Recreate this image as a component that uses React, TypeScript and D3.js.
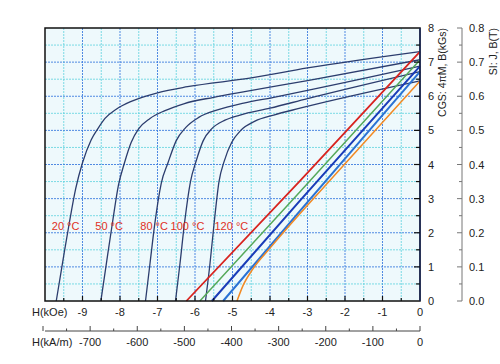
import { useEffect, useRef } from "react";
import * as d3 from "d3";

// demagnetization curves, H in kOe, J (4πM) in kGs
const j20 = [[-9.7, 0], [-9.52, 1.2], [-9.35, 2.3], [-9.18, 3.3], [-9.0, 4.05], [-8.77, 4.72], [-8.59, 5.05], [-8.4, 5.35], [-8.1, 5.62], [-7.7, 5.85], [-7.0, 6.1], [-6.2, 6.28], [-4.54, 6.53], [-3, 6.83], [0, 7.31]];
const j50 = [[-8.51, 0], [-8.35, 1.2], [-8.2, 2.3], [-8.04, 3.4], [-7.88, 4.05], [-7.7, 4.65], [-7.5, 5.05], [-7.2, 5.35], [-6.8, 5.58], [-6.3, 5.78], [-5.5, 5.97], [-4.6, 6.15], [-3, 6.46], [0, 7.07]];
const j80 = [[-7.32, 0], [-7.2, 1.1], [-7.07, 2.28], [-6.9, 3.45], [-6.72, 4.05], [-6.5, 4.7], [-6.25, 5.08], [-5.9, 5.38], [-5.4, 5.6], [-4.7, 5.8], [-3.9, 5.97], [-3, 6.17], [0, 6.88]];
const j100 = [[-6.52, 0], [-6.4, 1.1], [-6.28, 2.28], [-6.12, 3.5], [-5.97, 4.1], [-5.78, 4.7], [-5.55, 5.05], [-5.2, 5.3], [-4.8, 5.45], [-4.0, 5.65], [-3, 5.93], [0, 6.72]];
const j120 = [[-5.72, 0], [-5.6, 1.1], [-5.49, 2.28], [-5.36, 3.5], [-5.22, 4.1], [-5.02, 4.65], [-4.78, 5.0], [-4.4, 5.27], [-3.9, 5.45], [-3.2, 5.65], [0, 6.45]];

// normal B curves
const b20 = [[-6.23, 0], [-3.2, 3.52], [0, 7.31]];
const b50 = [[-5.87, 0], [-3.2, 3.2], [0, 7.07]];
const b80 = [[-5.55, 0], [-3.2, 2.94], [0, 6.88]];
const b100 = [[-5.25, 0], [-3.2, 2.64], [0, 6.72]];
const b120 = [[-4.88, 0], [-4.72, 0.45], [-4.45, 0.95], [-4.0, 1.55], [-2, 4.02], [0, 6.45]];

const tempLabels = ["20 °C", "50 °C", "80 °C", "100 °C", "120 °C"];
const labelH = [-9.45, -8.29, -7.09, -6.2, -5.03];
const labelJ = 2.2;

const koeTicks = [-9, -8, -7, -6, -5, -4, -3, -2, -1, 0];
const kamTicks = [-700, -600, -500, -400, -300, -200, -100, 0];
const kgsTicks = [0, 1, 2, 3, 4, 5, 6, 7, 8];
const teslaTicks = [0, 0.1, 0.2, 0.3, 0.4, 0.5, 0.6, 0.7, 0.8];

const bColors = ["#d8231f", "#55a95a", "#1a3cb8", "#2a72d4", "#f28a24"];
const bWidths = [1.8, 1.5, 2, 2, 1.5];

export default function App() {
  const svgRef = useRef<SVGSVGElement>(null);

  useEffect(() => {
    const svgEl = svgRef.current;
    if (!svgEl) return;
    const svg = d3.select(svgEl);
    svg.selectAll("*").remove();

    const left = 45, right = 420, top = 28, bottom = 301;
    const x = d3.scaleLinear().domain([-10, 0]).range([left, right]);
    const y = d3.scaleLinear().domain([0, 8]).range([bottom, top]);
    const xk = d3.scaleLinear().domain([-10 * 79.577, 0]).range([left, right]);
    const yt = d3.scaleLinear().domain([0, 0.8]).range([bottom, top]);
    const font = "'Liberation Sans', Arial, sans-serif";

    svg.append("rect")
      .attr("x", left).attr("y", top)
      .attr("width", right - left).attr("height", bottom - top)
      .attr("fill", "#eef9fc");

    // grid
    const g = svg.append("g");
    d3.range(-9.5, 0, 0.5).forEach((h) => {
      const major = Number.isInteger(h);
      g.append("line")
        .attr("x1", x(h)).attr("x2", x(h)).attr("y1", top).attr("y2", bottom)
        .attr("stroke", major ? "#3f7fe0" : "#5fd3df")
        .attr("stroke-width", 1)
        .attr("stroke-dasharray", "2,1")
        .attr("opacity", major ? 0.9 : 0.8);
    });
    d3.range(0.5, 8, 0.5).forEach((v) => {
      const major = Number.isInteger(v);
      g.append("line")
        .attr("x1", left).attr("x2", right).attr("y1", y(v)).attr("y2", y(v))
        .attr("stroke", major ? "#3f7fe0" : "#5fd3df")
        .attr("stroke-width", 1)
        .attr("stroke-dasharray", "2,1")
        .attr("opacity", major ? 0.9 : 0.8);
    });

    const line = d3.line<number[]>()
      .x((d) => x(d[0]))
      .y((d) => y(d[1]))
      .curve(d3.curveMonotoneX);

    [j20, j50, j80, j100, j120].forEach((pts) => {
      svg.append("path")
        .datum(pts)
        .attr("fill", "none")
        .attr("stroke", "#2c3d6e")
        .attr("stroke-width", 1.3)
        .attr("d", line);
    });

    [b20, b50, b80, b100, b120].forEach((pts, i) => {
      svg.append("path")
        .datum(pts)
        .attr("fill", "none")
        .attr("stroke", bColors[i])
        .attr("stroke-width", bWidths[i])
        .attr("d", line);
    });

    tempLabels.forEach((t, i) => {
      svg.append("text")
        .attr("x", x(labelH[i])).attr("y", y(labelJ) + 4)
        .attr("text-anchor", "middle")
        .attr("font-family", font).attr("font-size", 11)
        .attr("fill", "#e0301e")
        .text(t);
    });

    // frame
    svg.append("rect")
      .attr("x", left).attr("y", top)
      .attr("width", right - left).attr("height", bottom - top)
      .attr("fill", "none").attr("stroke", "#111").attr("stroke-width", 1.5);
    svg.append("line")
      .attr("x1", right).attr("x2", right).attr("y1", top).attr("y2", bottom)
      .attr("stroke", "#1c2a5a").attr("stroke-width", 1.5);

    // inner ticks on bottom and right
    d3.range(-9.5, 0, 0.5).forEach((h) => {
      svg.append("line")
        .attr("x1", x(h)).attr("x2", x(h))
        .attr("y1", bottom).attr("y2", bottom - (Number.isInteger(h) ? 5 : 3))
        .attr("stroke", "#111").attr("stroke-width", 1.2);
    });
    d3.range(0.5, 8, 0.5).forEach((v) => {
      svg.append("line")
        .attr("x1", right).attr("x2", right - (Number.isInteger(v) ? 6 : 4))
        .attr("y1", y(v)).attr("y2", y(v))
        .attr("stroke", "#111").attr("stroke-width", 1.2);
    });

    // kOe labels
    svg.append("text")
      .attr("x", 32).attr("y", 316)
      .attr("font-family", font).attr("font-size", 11).attr("fill", "#222")
      .text("H(kOe)");
    koeTicks.forEach((t) => {
      svg.append("text")
        .attr("x", x(t)).attr("y", 316)
        .attr("text-anchor", "middle")
        .attr("font-family", font).attr("font-size", 11).attr("fill", "#222")
        .text(t);
    });

    // kA/m axis
    const ky = 331;
    svg.append("line")
      .attr("x1", xk(-795.77)).attr("x2", xk(0)).attr("y1", ky).attr("y2", ky)
      .attr("stroke", "#444").attr("stroke-width", 1);
    d3.range(-800, 1, 50).forEach((t) => {
      svg.append("line")
        .attr("x1", xk(t)).attr("x2", xk(t))
        .attr("y1", ky).attr("y2", ky - (t % 100 === 0 ? 5 : 2.5))
        .attr("stroke", "#444").attr("stroke-width", 1);
    });
    svg.append("text")
      .attr("x", 32).attr("y", 346)
      .attr("font-family", font).attr("font-size", 11).attr("fill", "#222")
      .text("H(kA/m)");
    kamTicks.forEach((t) => {
      svg.append("text")
        .attr("x", xk(t)).attr("y", 346)
        .attr("text-anchor", "middle")
        .attr("font-family", font).attr("font-size", 11).attr("fill", "#222")
        .text(t);
    });

    // right CGS axis labels
    kgsTicks.forEach((t) => {
      svg.append("text")
        .attr("x", 428).attr("y", y(t) + 4)
        .attr("font-family", font).attr("font-size", 11).attr("fill", "#222")
        .text(t);
    });
    svg.append("text")
      .attr("transform", `translate(446,${top}) rotate(-90)`)
      .attr("text-anchor", "end")
      .attr("font-family", font).attr("font-size", 10.5).attr("fill", "#222")
      .text("CGS: 4πM, B(kGs)");

    // SI axis
    const sx = 462;
    svg.append("line")
      .attr("x1", sx).attr("x2", sx).attr("y1", top).attr("y2", bottom)
      .attr("stroke", "#777").attr("stroke-width", 1);
    d3.range(0, 0.81, 0.05).forEach((t) => {
      const major = Math.abs(Math.round(t * 10) - t * 10) < 1e-6;
      svg.append("line")
        .attr("x1", sx).attr("x2", sx - (major ? 5 : 3))
        .attr("y1", yt(t)).attr("y2", yt(t))
        .attr("stroke", "#777").attr("stroke-width", 1);
    });
    teslaTicks.forEach((t) => {
      svg.append("text")
        .attr("x", 469).attr("y", yt(t) + 4)
        .attr("font-family", font).attr("font-size", 11).attr("fill", "#222")
        .text(t.toFixed(1));
    });
    svg.append("text")
      .attr("transform", `translate(497,${top}) rotate(-90)`)
      .attr("text-anchor", "end")
      .attr("font-family", font).attr("font-size", 10.5).attr("fill", "#222")
      .text("SI: J, B(T)");
  }, []);

  return (
    <div style={{ position: "absolute", left: 0, top: 0 }}>
      <svg ref={svgRef} width={500} height={364} style={{ display: "block", background: "#fff" }} />
    </div>
  );
}
